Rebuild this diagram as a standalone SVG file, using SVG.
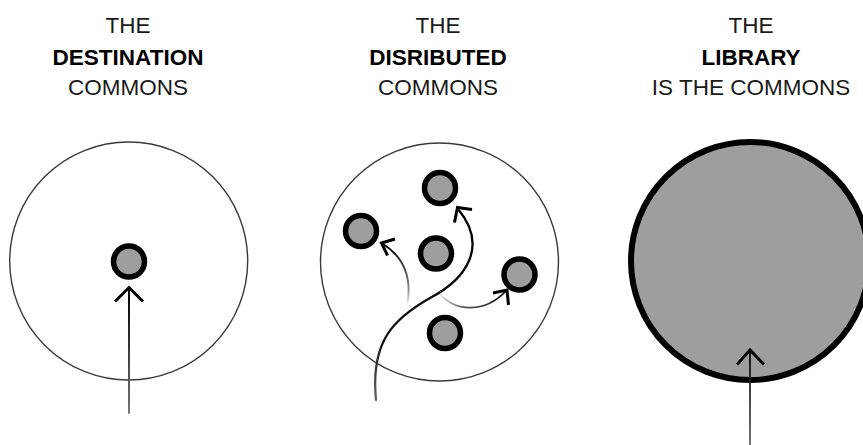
<svg xmlns="http://www.w3.org/2000/svg" width="863" height="445" viewBox="0 0 863 445">
  <style>
    .t { font-family: "Liberation Sans", Arial, sans-serif; font-size: 22.5px; fill: #1a1a1a; text-anchor: middle; }
    .b { font-weight: bold; fill: #000; }
    .ring { fill: none; stroke: #3a3a3a; stroke-width: 1.4; }
    .node { fill: #9e9e9e; stroke: #000; stroke-width: 5.5; }
    .head { fill: none; stroke: #000; stroke-width: 3; stroke-linecap: butt; stroke-linejoin: miter; }
    .line { fill: none; stroke-linecap: round; }
  </style>
  <defs>
    <linearGradient id="fadeUp" gradientUnits="userSpaceOnUse" x1="0" y1="415" x2="0" y2="290">
      <stop offset="0" stop-color="#777"/>
      <stop offset="1" stop-color="#000"/>
    </linearGradient>
    <linearGradient id="fadeMain" gradientUnits="userSpaceOnUse" x1="0" y1="400" x2="0" y2="210">
      <stop offset="0" stop-color="#666"/>
      <stop offset="0.3" stop-color="#111"/>
      <stop offset="1" stop-color="#000"/>
    </linearGradient>
    <linearGradient id="fadeLeft" gradientUnits="userSpaceOnUse" x1="0" y1="306" x2="0" y2="245">
      <stop offset="0" stop-color="#000" stop-opacity="0"/>
      <stop offset="0.5" stop-color="#555"/>
      <stop offset="1" stop-color="#000"/>
    </linearGradient>
    <linearGradient id="fadeRight" gradientUnits="userSpaceOnUse" x1="438" y1="0" x2="507" y2="0">
      <stop offset="0" stop-color="#000" stop-opacity="0"/>
      <stop offset="0.4" stop-color="#555"/>
      <stop offset="1" stop-color="#000"/>
    </linearGradient>
    <linearGradient id="fadeRightPanel" gradientUnits="userSpaceOnUse" x1="0" y1="445" x2="0" y2="350">
      <stop offset="0" stop-color="#666"/>
      <stop offset="1" stop-color="#000"/>
    </linearGradient>
  </defs>

  <!-- titles -->
  <g id="title-destination">
    <text class="t" x="128" y="33">THE</text>
    <text class="t b" x="128" y="64.5">DESTINATION</text>
    <text class="t" x="128" y="95">COMMONS</text>
  </g>
  <g id="title-distributed">
    <text class="t" x="438" y="33">THE</text>
    <text class="t b" x="438" y="64.5">DISRIBUTED</text>
    <text class="t" x="438" y="95">COMMONS</text>
  </g>
  <g id="title-library">
    <text class="t" x="751" y="33">THE</text>
    <text class="t b" x="751" y="64.5">LIBRARY</text>
    <text class="t" x="751" y="95">IS THE COMMONS</text>
  </g>

  <!-- panel 1 -->
  <g id="destination-ring"><circle class="ring" cx="128.7" cy="261" r="119"/></g>
  <g id="destination-node"><circle class="node" cx="129" cy="261.5" r="15.5"/></g>

  <!-- panel 2 -->
  <g id="distributed-ring"><circle class="ring" cx="439.5" cy="262" r="119"/></g>
  <g id="node-top"><circle class="node" cx="440" cy="188" r="15.5"/></g>
  <g id="node-left"><circle class="node" cx="361" cy="231" r="15.5"/></g>
  <g id="node-center"><circle class="node" cx="436" cy="253.5" r="15.5"/></g>
  <g id="node-right"><circle class="node" cx="519.5" cy="274.5" r="15.5"/></g>
  <g id="node-bottom"><circle class="node" cx="445" cy="333" r="15.5"/></g>

  <!-- panel 3 -->
  <g id="library"><circle cx="750" cy="261" r="119" fill="#9e9e9e" stroke="#000" stroke-width="6"/></g>

  <!-- connectors -->
  <g id="connectors">
    <path class="line" d="M129,413 L129,288" stroke="url(#fadeUp)" stroke-width="2"/>
    <path class="head" d="M115,301.5 L129,287.5 L143,301.5"/>

    <path class="line" d="M376,400 C370,340 395,318 430,298 C468,278 488,245 458,209" stroke="url(#fadeMain)" stroke-width="2.3"/>
    <path class="head" d="M454.5,222.5 L457.5,207.5 L472,209.5"/>

    <path class="line" d="M407,306 C412,280 405,258 383,244" stroke="url(#fadeLeft)" stroke-width="1.8"/>
    <path class="head" d="M387.5,255.5 L381.5,243 L395,239"/>

    <path class="line" d="M438,292 C455,313 485,313 506,291" stroke="url(#fadeRight)" stroke-width="1.8"/>
    <path class="head" d="M493,293 L507,290 L508.5,305"/>

    <path class="line" d="M750,445 L750,350" stroke="url(#fadeRightPanel)" stroke-width="1.8"/>
    <path class="head" d="M737,364.5 L750,350 L764,364.5"/>
  </g>
</svg>
